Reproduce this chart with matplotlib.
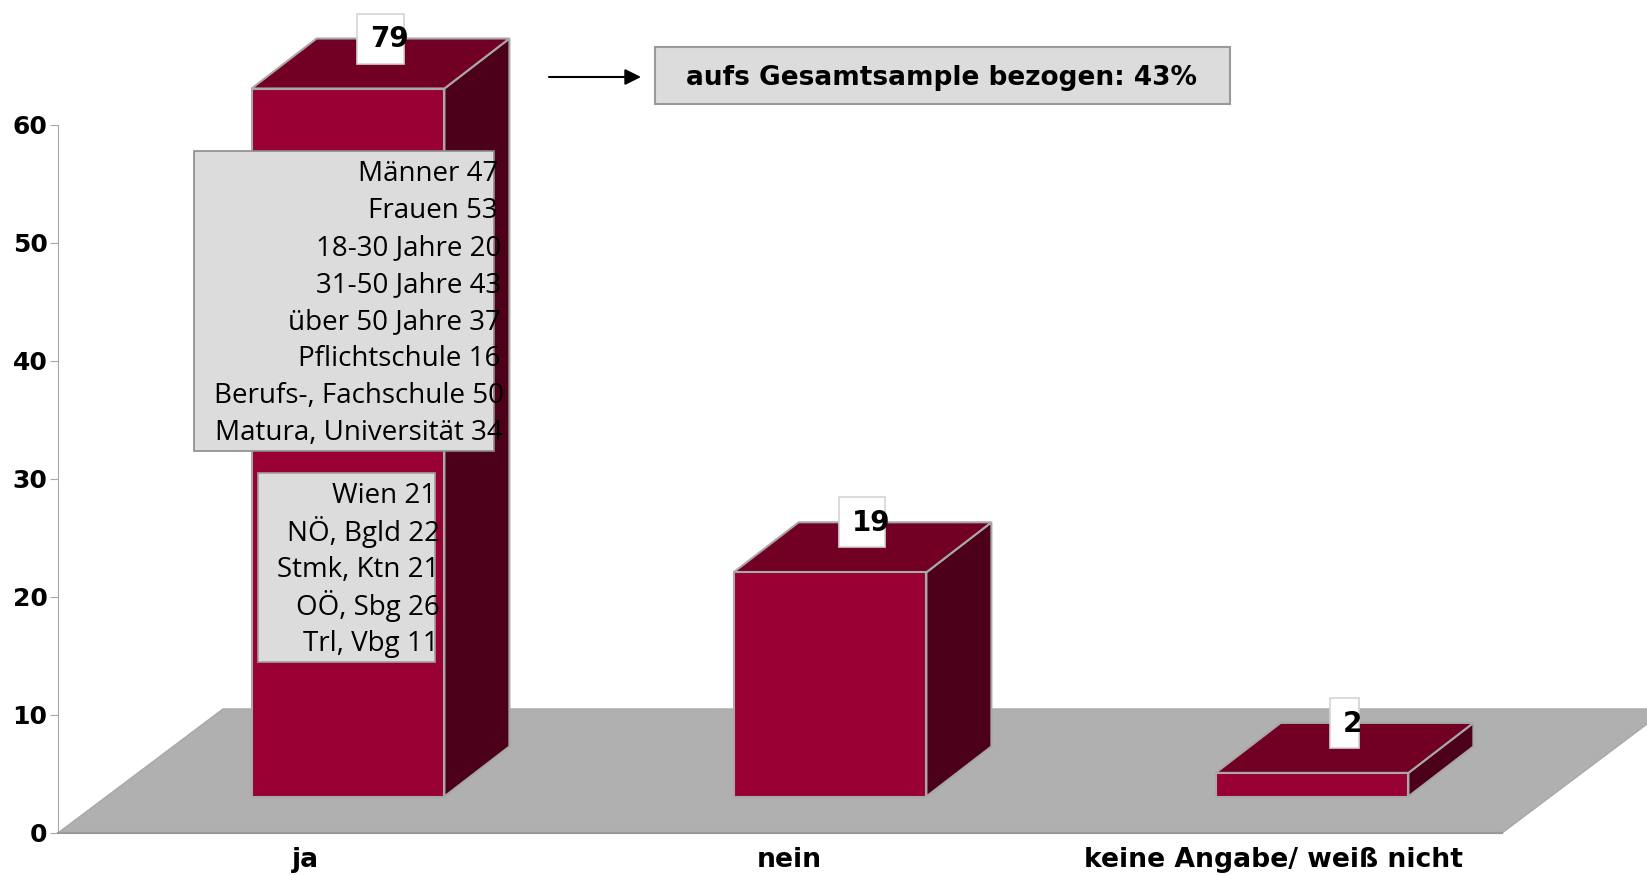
import matplotlib
matplotlib.use('Agg')
import matplotlib.pyplot as plt
from matplotlib.patches import Rectangle

# Daten
categories = ['ja', 'nein', 'keine Angabe/ weiß nicht']
values = [79, 19, 2]
y_ticks = [0, 10, 20, 30, 40, 50, 60]
y_max = 60  # die Achse endet bei 60, der Balken "ja" wird dort abgeschnitten

groups_1 = ['Männer 47', 'Frauen 53', '18-30 Jahre 20', '31-50 Jahre 43', 'über 50 Jahre 37',
            'Pflichtschule 16', 'Berufs-, Fachschule 50', 'Matura, Universität 34']
groups_2 = ['Wien 21', 'NÖ, Bgld 22', 'Stmk, Ktn 21', 'OÖ, Sbg 26', 'Trl, Vbg 11']
note = 'aufs Gesamtsample bezogen: 43%'

W, H = 1647, 875
FONT_BOLD = 'DejaVu Sans'
FONT_REG = 'Open Sans'
FRONT, TOP, SIDE = '#990033', '#720024', '#4d001a'
FLOOR, EDGE, BOX = '#b0b0b0', '#a8a8a8', '#dcdcdc'

PX_CAT = 482.0   # Pixel pro Kategorie
PX_VAL = 11.8    # Pixel pro Prozentpunkt
BASE = 796.5     # Pixelzeile der Balkenbasis
BAR_W = 0.4
DX, DY = 65 / PX_CAT, 50 / PX_VAL

fig = plt.figure(figsize=(W / 100, H / 100), dpi=100, facecolor='white')

# Szene: x in Kategorien, y in Prozent
ax = fig.add_axes([0, 0, 1, 1])
ax.set_xlim(-348 / PX_CAT, (W - 348) / PX_CAT)
ax.set_ylim(-(H - BASE) / PX_VAL, BASE / PX_VAL)
ax.axis('off')

# Boden
fx0, fx1 = -290 / PX_CAT, 1154 / PX_CAT
fy0, fy1 = (BASE - 833) / PX_VAL, (BASE - 709) / PX_VAL
fdx = 165 / PX_CAT
ax.fill([fx0, fx1, fx1 + fdx, fx0 + fdx], [fy0, fy0, fy1, fy1],
        facecolor=FLOOR, edgecolor=EDGE, lw=1, zorder=1)

# Balken
xs = list(range(len(categories)))
shown = [min(v, y_max) for v in values]
ax.bar(xs, shown, width=BAR_W, color=FRONT, edgecolor=EDGE, lw=1.5, zorder=3)
for x, h in zip(xs, shown):
    l, r = x - BAR_W / 2, x + BAR_W / 2
    ax.fill([r, r + DX, r + DX, r], [0, DY, h + DY, h],
            facecolor=SIDE, edgecolor=EDGE, lw=1.5, zorder=2)
    ax.fill([l, r, r + DX, l + DX], [h, h, h + DY, h + DY],
            facecolor=TOP, edgecolor=EDGE, lw=1.5, zorder=2)

# Achse
ax2 = fig.add_axes([58 / W, (H - 833) / H, (1502 - 58) / W, (833 - 125) / H])
ax2.patch.set_alpha(0)
ax2.set_ylim(0, y_max)
ax2.set_xlim((58 - 305) / 484.5, (1502 - 305) / 484.5)
for s in ['top', 'right']:
    ax2.spines[s].set_visible(False)
ax2.spines['left'].set_color(EDGE)
ax2.spines['bottom'].set_color('#989898')
ax2.spines['bottom'].set_linewidth(1.5)
ax2.set_yticks(y_ticks)
ax2.set_yticklabels([str(t) for t in y_ticks], fontsize=18, fontweight='bold', family=FONT_BOLD)
ax2.tick_params(axis='y', length=6, color=EDGE, pad=1.5)
ax2.set_xticks(xs)
ax2.set_xticklabels(categories, fontsize=19.2, fontweight='bold', family=FONT_BOLD)
ax2.tick_params(axis='x', length=0, pad=10)

# Kästen und Texte in Pixeln
ov = fig.add_axes([0, 0, 1, 1])
ov.set_xlim(0, W)
ov.set_ylim(H, 0)
ov.axis('off')


def box(x0, y0, x1, y1, face, edge, lw=1.2, z=5):
    ov.add_patch(Rectangle((x0, y0), x1 - x0, y1 - y0, facecolor=face, edgecolor=edge, lw=lw, zorder=z))


# Wertelabels
label_boxes = [(357, 14, 404, 64), (839, 497, 885, 547), (1330, 698, 1359, 748)]
label_pos = [(389, 39), (871, 523), (1352, 724)]
for v, b, p in zip(values, label_boxes, label_pos):
    box(*b, 'white', '#d4d4d4')
    ov.text(p[0], p[1], str(v), ha='center', va='center', fontsize=20, fontweight='bold',
            family=FONT_BOLD, zorder=6)

# Untergruppen
box(194, 151, 494, 451, BOX, '#8c8c8c')
right_1 = [498, 498, 501, 501, 501, 501, 504, 503]
ypos_1 = [174, 211, 248, 285, 322, 359, 396, 433]
for t, r, y in zip(groups_1, right_1, ypos_1):
    ov.text(r, y, t, ha='right', va='center', fontsize=20, family=FONT_REG, zorder=6)

box(258, 473, 435, 662, '#dcdcdc', '#a0a0a0')
right_2 = [436, 440, 439, 440, 439]
ypos_2 = [496, 532, 570, 606, 644]
for t, r, y in zip(groups_2, right_2, ypos_2):
    ov.text(r, y, t, ha='right', va='center', fontsize=20, family=FONT_REG, zorder=6)

# Hinweis mit Pfeil
box(655, 47, 1230, 104, BOX, '#999999', lw=1.5)
ov.text(941, 78, note, ha='center', va='center', fontsize=19, fontweight='bold', family=FONT_BOLD, zorder=6)
ov.annotate('', xy=(641, 77), xytext=(549, 77),
            arrowprops=dict(arrowstyle='-|>', color='black', lw=1.5, mutation_scale=24, shrinkA=0, shrinkB=0))

plt.savefig('out.png', dpi=100)
